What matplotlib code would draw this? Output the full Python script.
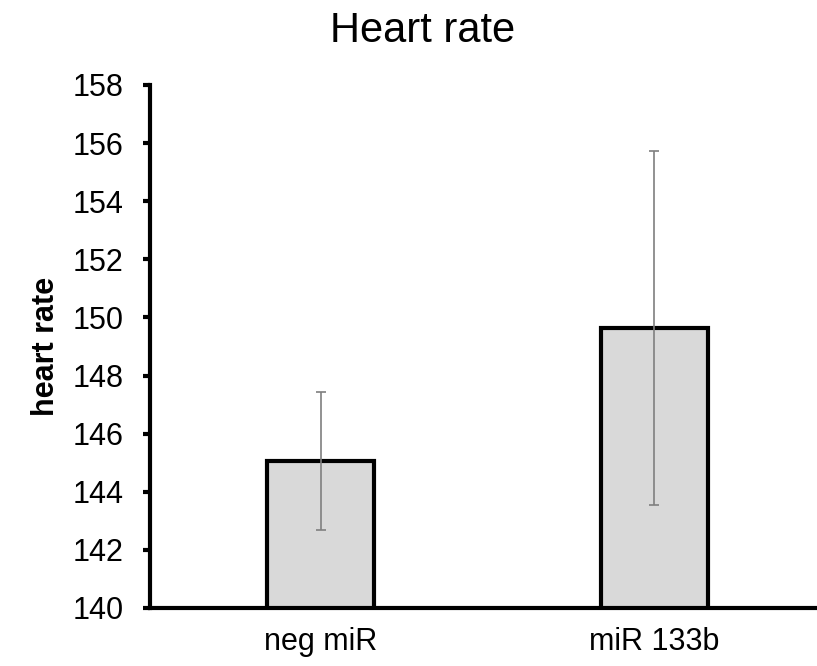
import matplotlib
matplotlib.use("Agg")
import matplotlib.pyplot as plt

plt.rcParams['font.family'] = ['Liberation Sans', 'DejaVu Sans']

# data
groups = ["neg miR", "miR 133b"]
means = [145.05, 149.62]
err_low = [2.35, 6.07]
err_high = [2.38, 6.10]

fig = plt.figure(figsize=(8.17, 6.66), dpi=100)
ax = fig.add_axes([0.1836, 0.0871, 0.8164, 0.7853])

ax.bar(range(len(groups)), means, width=0.32, bottom=0,
       color="#d9d9d9", edgecolor="black", linewidth=3,
       yerr=[err_low, err_high], ecolor="#7f7f7f",
       error_kw=dict(elinewidth=1.2, capsize=3.5, capthick=1.2))

ax.set_ylim(140, 158)
ax.set_xlim(-0.512, 1.488)
ax.set_yticks(range(140, 159, 2))
ax.set_xticks(range(len(groups)))
ax.set_xticklabels(groups)

ax.spines['top'].set_visible(False)
ax.spines['right'].set_visible(False)
ax.spines['left'].set_linewidth(3)
ax.spines['bottom'].set_linewidth(3)
ax.tick_params(axis='y', direction='out', length=5, width=3, labelsize=22, pad=14)
ax.tick_params(axis='x', length=0, labelsize=22, pad=14)

ax.set_ylabel("heart rate", fontsize=22, fontweight='bold', labelpad=8)
fig.text(423 / 817, 1 - 42 / 666, "Heart rate", fontsize=30,
         ha='center', va='baseline')

fig.savefig("out.png", dpi=100)
